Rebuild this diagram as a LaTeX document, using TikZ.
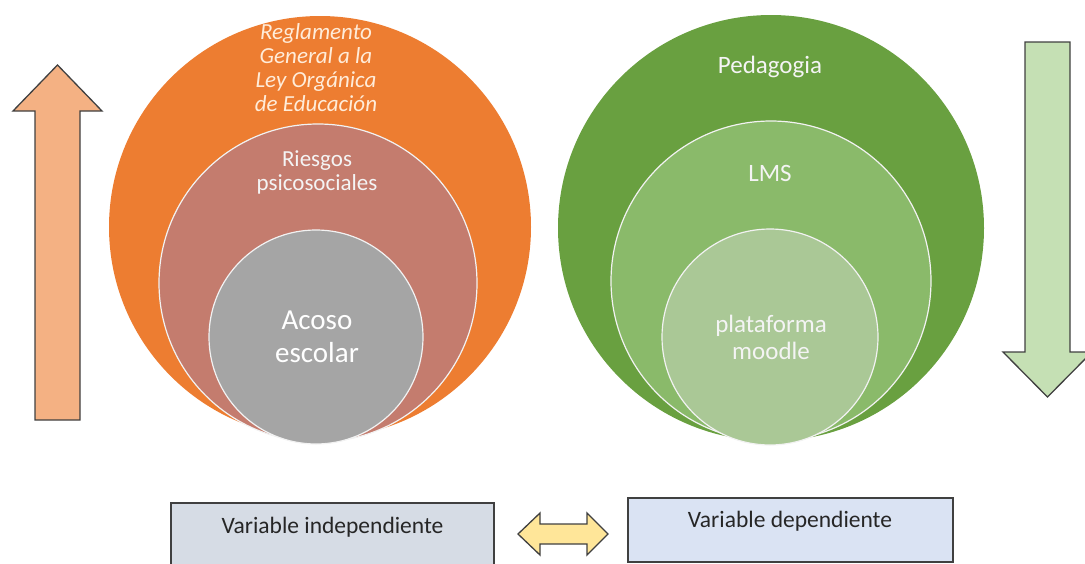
\documentclass[tikz,border=0pt]{standalone}
\usepackage{fontspec}
\setmainfont{Carlito}
\usepackage{tikz}
\usetikzlibrary{positioning}

\definecolor{orangeout}{HTML}{ED7D31}
\definecolor{riesgo}{HTML}{C47C6E}
\definecolor{acoso}{HTML}{A5A5A5}
\definecolor{greenout}{HTML}{69A040}
\definecolor{greenmid}{HTML}{8ABA6A}
\definecolor{greenin}{HTML}{AAC896}
\definecolor{uparrow}{HTML}{F4B183}
\definecolor{downarrow}{HTML}{C5E0B4}
\definecolor{dblarrow}{HTML}{FFE699}
\definecolor{boxleft}{HTML}{D6DCE5}
\definecolor{boxright}{HTML}{DAE3F3}
\definecolor{lbltext}{HTML}{F4F4F4}

\tikzset{
	circ/.style={circle,inner sep=0pt,draw=white!90!gray,line width=1.2pt},
	lbl/.style={align=center,text=lbltext,inner sep=0pt},
	varbox/.style={draw=black!75,line width=1.2pt},
	blockarrow/.style={draw=black!75,line width=1.3pt,line join=miter},
}

\begin{document}
\begin{tikzpicture}[x=1pt,y=-1pt]
		\useasboundingbox (0,0) rectangle (1085,563);
		\clip (0,0) rectangle (1085,563);
		
		% up arrow.....................
		\draw [blockarrow, fill=uparrow] (35,420) -- (35,111) -- (13,111) -- (57.5,65) -- (102,111) -- (80,111) -- (80,420) -- cycle;
		
		% down arrow...................
		\draw [blockarrow, fill=downarrow] (1025,42) -- (1070,42) -- (1070,352) -- (1092,352) -- (1047.5,397) -- (1003,352) -- (1025,352) -- cycle;
		
		% left circles....................
		\node [circ, fill=orangeout, draw=none, minimum size=422pt] (regl) at (320,227) {};
		\node [circ, fill=riesgo, minimum size=318pt] (riesgos) at (318,283) {};
		\node [circ, fill=acoso, minimum size=214pt] (acoso) at (316,337) {};
		
		% right circles...................
		\node [circ, fill=greenout, draw=none, minimum size=426pt] (pedag) at (771,228) {};
		\node [circ, fill=greenmid, minimum size=320pt] (lms) at (771,281) {};
		\node [circ, fill=greenin, minimum size=216pt] (moodle) at (770,337) {};
		
		% circle labels..............................
		\node [lbl, text=orange!15, font=\fontsize{23}{24}\selectfont\itshape] (regltxt) at (316,68) {Reglamento\\General a la\\Ley Orgánica\\de Educación};
		\node [lbl, font=\fontsize{23}{24}\selectfont] (riesgostxt) at (317,172) {Riesgos\\psicosociales};
		\node [lbl, text=white, font=\fontsize{29}{33}\selectfont] (acosotxt) at (317,337) {Acoso\\escolar};
		\node [lbl, font=\fontsize{25}{27}\selectfont] (pedagtxt) at (770,67) {Pedagogia};
		\node [lbl, font=\fontsize{25}{27}\selectfont] (lmstxt) at (770,173) {LMS};
		\node [lbl, font=\fontsize{25}{27}\selectfont] (moodletxt) at (771,337) {plataforma\\moodle};
		
		% variable boxes.......................
		\draw [varbox, fill=boxleft] (171,503) rectangle (494,575);
		\node [text=black!85, font=\fontsize{23.5}{25}\selectfont] (indep) at (332.5,527) {Variable independiente};
		\draw [varbox, fill=boxright] (628,498) rectangle (953,562);
		\node [text=black!85, font=\fontsize{23.5}{25}\selectfont] (dep) at (790,521) {Variable dependiente};
		
		% double arrow..............................
		\draw [blockarrow, fill=dblarrow] (518,534) -- (540,513) -- (540,524) -- (587,524) -- (587,513) -- (608,534) -- (587,555) -- (587,544) -- (540,544) -- (540,555) -- cycle;
		
	\end{tikzpicture}
\end{document}
